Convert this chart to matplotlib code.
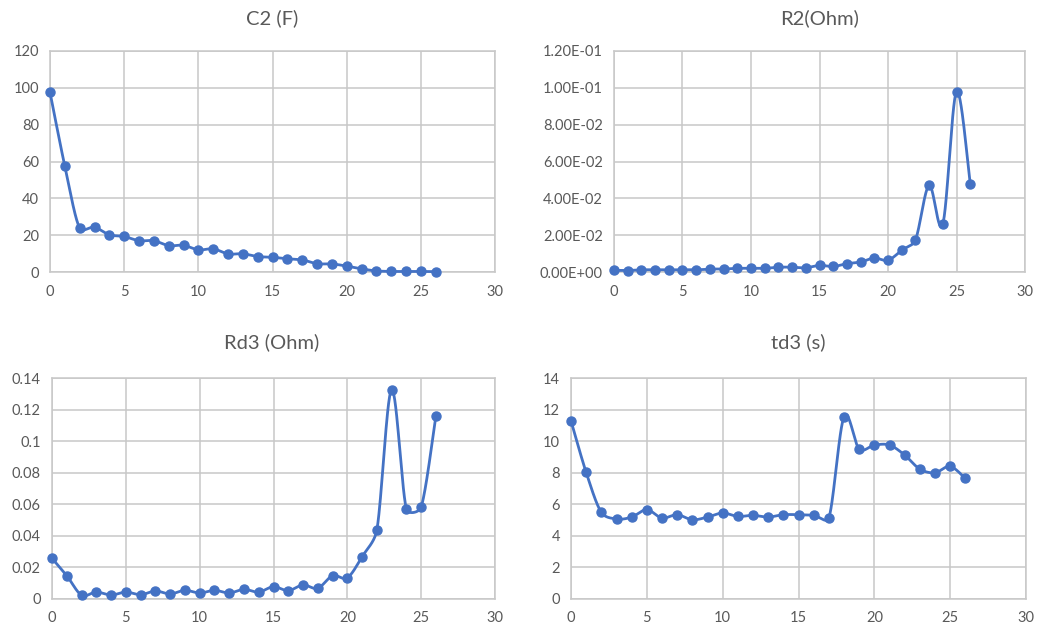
import numpy as np
import matplotlib
matplotlib.use("Agg")
import matplotlib.pyplot as plt
from matplotlib.ticker import FuncFormatter, MultipleLocator

plt.rcParams['font.family'] = ['Lato', 'DejaVu Sans']

# Sample index shared by all four series
steps = list(range(27))

c2_f = [97.6, 57.5, 23.8, 24.3, 20.2, 19.3, 17.0, 17.0, 14.3, 14.5, 12.0, 12.6,
        9.8, 9.9, 8.4, 8.0, 7.2, 6.6, 4.5, 4.4, 3.2, 1.7, 0.6, 0.3, 0.3, 0.3, 0.2]

r2_ohm = [0.0009, 0.0008, 0.0012, 0.0012, 0.0012, 0.0012, 0.0012, 0.0016, 0.0016,
          0.0020, 0.0020, 0.0020, 0.0026, 0.0026, 0.0023, 0.0036, 0.0030, 0.0045,
          0.0054, 0.0076, 0.0064, 0.0118, 0.0174, 0.0470, 0.0260, 0.0980, 0.0480]

rd3_ohm = [0.0258, 0.0148, 0.0025, 0.0044, 0.0025, 0.0044, 0.0027, 0.0051, 0.0032,
           0.0055, 0.0038, 0.0055, 0.0038, 0.0061, 0.0044, 0.0078, 0.0053, 0.0089,
           0.0068, 0.0148, 0.0135, 0.0268, 0.0438, 0.1326, 0.0569, 0.0582, 0.1161]

td3_s = [11.29, 8.02, 5.49, 5.07, 5.19, 5.66, 5.13, 5.34, 5.02, 5.19, 5.45, 5.23,
         5.30, 5.19, 5.34, 5.34, 5.30, 5.11, 11.53, 9.50, 9.75, 9.75, 9.12, 8.23,
         8.00, 8.40, 7.64]

titles = ["C2 (F)", "R2(Ohm)", "Rd3 (Ohm)", "td3 (s)"]

BLUE = "#4472C4"
GRID = "#C8C8C8"
TEXT = "#595959"
W, H = 1038, 635


def smooth_curve(ax, x, y, n=30):
    """Smoothed line through the points, built in display space.

    Each segment is a cubic Bezier with Catmull-Rom handles
    ((next - previous) / 6), capped at a fraction of the segment's own
    length so short segments beside steep ones barely overshoot."""
    pts = ax.transData.transform(np.column_stack([x, y]))
    ext = np.vstack([pts[0], pts, pts[-1]])
    t = np.linspace(0, 1, n)[:, None]
    out = []

    def handle(d, seg_len):
        length = np.hypot(*d) / 6
        if length == 0:
            return d * 0
        return d / np.hypot(*d) * min(length, seg_len * 0.4)

    for i in range(1, len(ext) - 2):
        p0, p3 = ext[i], ext[i + 1]
        seg_len = np.hypot(*(p3 - p0))
        p1 = p0 + handle(ext[i + 1] - ext[i - 1], seg_len)
        p2 = p3 - handle(ext[i + 2] - ext[i], seg_len)
        seg = ((1 - t) ** 3) * p0 + 3 * ((1 - t) ** 2) * t * p1 \
            + 3 * (1 - t) * t ** 2 * p2 + t ** 3 * p3
        out.append(seg)
    curve = ax.transData.inverted().transform(np.vstack(out))
    return curve[:, 0], curve[:, 1]


def box(l, t, r, b):
    return [l / W, 1 - b / H, (r - l) / W, (b - t) / H]


def fmt_int(v, p):
    return f"{v:.0f}"


def fmt_sci(v, p):
    return f"{v:.2E}"


def fmt_general(v, p):
    return "0" if abs(v) < 1e-12 else f"{v:.2f}".rstrip("0")


fig = plt.figure(figsize=(W / 100, H / 100), dpi=100)
fig.patch.set_facecolor("white")

panels = [
    (box(50, 51, 495, 272), c2_f, 120, 20, fmt_int, (272, 18)),
    (box(614, 51, 1025, 272), r2_ohm, 0.12, 0.02, fmt_sci, (820, 18)),
    (box(52, 378, 495, 599), rd3_ohm, 0.14, 0.02, fmt_general, (272, 342)),
    (box(571, 378, 1026, 599), td3_s, 14, 2, fmt_int, (798, 342)),
]

for (rect, vals, ymax, ystep, fmt, tpos), title in zip(panels, titles):
    ax = fig.add_axes(rect)
    ax.set_xlim(0, 30)
    ax.set_ylim(0, ymax)
    ax.xaxis.set_major_locator(MultipleLocator(5))
    ax.yaxis.set_major_locator(MultipleLocator(ystep))
    ax.yaxis.set_major_formatter(FuncFormatter(fmt))
    ax.grid(True, color=GRID, linewidth=1.1)
    ax.set_axisbelow(True)
    for s in ax.spines.values():
        s.set_color(GRID)
        s.set_linewidth(1.1)
    ax.tick_params(length=0, colors=TEXT, labelsize=10.5)
    ax.tick_params(axis="x", pad=9)
    ax.tick_params(axis="y", pad=8)
    sx, sy = smooth_curve(ax, steps, vals)
    ax.plot(sx, sy, color=BLUE, linewidth=2.0, clip_on=False, zorder=3)
    ax.plot(steps, vals, linestyle="none", marker="o", markersize=6.5,
            color=BLUE, clip_on=False, zorder=4)
    fig.text(tpos[0] / W, 1 - tpos[1] / H, title, ha="center", va="center",
             fontsize=14.5, color=TEXT)

fig.savefig("out.png", dpi=100, facecolor="white")
